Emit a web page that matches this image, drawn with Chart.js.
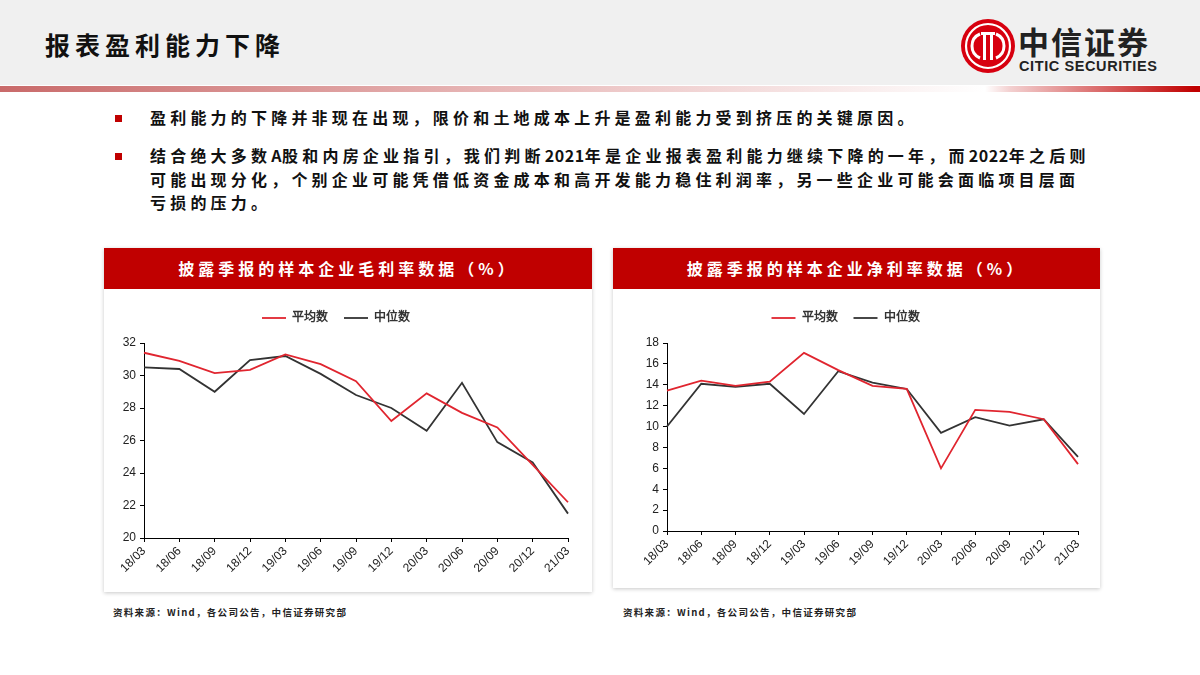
<!DOCTYPE html>
<html lang="zh-CN">
<head>
<meta charset="UTF-8" />
<title>报表盈利能力下降</title>
<script src="https://cdn.jsdelivr.net/npm/chart.js"></script>
<style>
  body {
    margin: 0;
    width: 1200px;
    height: 675px;
    position: relative;
    background: #fff;
    font-family: 'Noto Sans CJK SC', 'Noto Sans', sans-serif;
    overflow: hidden;
  }
  .band {
    position: absolute; left: 0; top: 0; width: 1200px; height: 85px;
    background: #f0f0f0;
  }
  .redline {
    position: absolute; left: 0; top: 86px; width: 1200px; height: 6px;
    background: linear-gradient(to right, #c96a6a 0px, #e8b8b8 500px, #ffffff 985px, #f3d0d0 1010px, #c00000 1195px);
  }
  .title {
    position: absolute; left: 45px; top: 26px;
    font-size: 25px; font-weight: bold; letter-spacing: 5px; color: #111;
  }
  .logo-cn {
    position: absolute; left: 1018px; top: 18px;
    font-size: 31px; font-weight: bold; color: #222; letter-spacing: 2px;
  }
  .logo-en {
    position: absolute; left: 1019px; top: 58px;
    font-family: 'Liberation Sans', sans-serif;
    font-size: 14.5px; font-weight: bold; color: #222; letter-spacing: 0.6px;
  }
  .bullet {
    position: absolute; left: 115px; width: 7px; height: 7px; background: #c00000;
  }
  .btext {
    position: absolute; left: 150px;
    font-size: 16px; font-weight: bold; color: #111; letter-spacing: 4.2px;
    line-height: 23.5px; white-space: nowrap;
  }
  .btext span { letter-spacing: 0.6px; }
  .panel {
    position: absolute; background: #fff;
    box-shadow: 0 1px 4px rgba(0,0,0,0.22);
  }
  .phead {
    position: absolute; left: 0; top: 0; right: 0; height: 41px;
    background: #c00000; color: #fff; text-align: center;
    font-size: 16px; font-weight: bold; line-height: 41px; letter-spacing: 4px;
  }
  .chartbox { position: absolute; }
  .note {
    position: absolute; top: 605px;
    font-size: 9.5px; font-weight: bold; color: #222; letter-spacing: 1.3px;
  }
</style>
</head>
<body>
  <div class="band"></div>
  <div class="redline"></div>
  <div class="title">报表盈利能力下降</div>

  <svg style="position:absolute;left:960px;top:18px" width="56" height="56" viewBox="0 0 56 56">
    <circle cx="28" cy="28" r="27" fill="#d7000f" />
    <circle cx="28" cy="28" r="22" fill="none" stroke="#fff" stroke-width="2.2" />
    <path d="M20 16 A13 13 0 0 0 20 40" fill="none" stroke="#fff" stroke-width="3" />
    <path d="M36 16 A13 13 0 0 1 36 40" fill="none" stroke="#fff" stroke-width="3" />
    <rect x="23" y="14" width="3" height="28" fill="#fff" />
    <rect x="30" y="14" width="3" height="28" fill="#fff" />
    <rect x="21" y="14" width="14" height="3" fill="#fff" />
  </svg>
  <div class="logo-cn">中信证券</div>
  <div class="logo-en">CITIC SECURITIES</div>

  <div class="bullet" style="top:115px"></div>
  <div class="btext" style="top:106px">盈利能力的下降并非现在出现，限价和土地成本上升是盈利能力受到挤压的关键原因。</div>
  <div class="bullet" style="top:153px"></div>
  <div class="btext" style="top:144px">结合绝大多数<span>A</span>股和内房企业指引，我们判断<span>2021</span>年是企业报表盈利能力继续下降的一年，而<span>2022</span>年之后则<br>可能出现分化，个别企业可能凭借低资金成本和高开发能力稳住利润率，另一些企业可能会面临项目层面<br>亏损的压力。</div>

  <div class="panel" style="left:104px;top:248px;width:488px;height:344px">
    <div class="phead">披露季报的样本企业毛利率数据（%）</div>
  </div>
  <div class="panel" style="left:613px;top:248px;width:487px;height:340px">
    <div class="phead">披露季报的样本企业净利率数据（%）</div>
  </div>

  <div class="chartbox" style="left:104px;top:296px;width:488px;height:292px"><canvas id="chartGross"></canvas></div>
  <div class="chartbox" style="left:613px;top:296px;width:487px;height:290px"><canvas id="chartNet"></canvas></div>

  <div class="note" style="left:113px">资料来源：Wind，各公司公告，中信证券研究部</div>
  <div class="note" style="left:623px">资料来源：Wind，各公司公告，中信证券研究部</div>

  <script>
    // 季度
    const quarters = ['18/03', '18/06', '18/09', '18/12', '19/03', '19/06', '19/09', '19/12', '20/03', '20/06', '20/09', '20/12', '21/03'];

    // 毛利率（%）
    const grossMean = [31.4, 30.9, 30.15, 30.35, 31.3, 30.7, 29.65, 27.2, 28.9, 27.7, 26.8, 24.5, 22.2];
    const grossMedian = [30.5, 30.4, 29.0, 30.95, 31.2, 30.1, 28.8, 28.0, 26.6, 29.55, 25.9, 24.65, 21.5];

    // 净利率（%）
    const netMean = [13.45, 14.4, 13.9, 14.3, 17.05, 15.4, 13.9, 13.6, 6.0, 11.6, 11.4, 10.7, 6.4];
    const netMedian = [10.0, 14.1, 13.8, 14.1, 11.2, 15.3, 14.2, 13.6, 9.4, 10.9, 10.1, 10.7, 7.1];

    const RED = '#e0252f';
    const BLACK = '#333333';

    // a bit more room between legend and plot
    const legendGap = {
      id: 'legendGap',
      beforeInit(chart) {
        const fitOrig = chart.legend.fit;
        chart.legend.fit = function () {
          fitOrig.bind(chart.legend)();
          this.height += 9;
        };
      }
    };

    function criaGrafico(id, mean, median, yMin, yMax, yWidth, xHeight, padRight) {
      new Chart(document.getElementById(id).getContext('2d'), {
        type: 'line',
        data: {
          labels: quarters,
          datasets: [
            { label: '平均数', data: mean, borderColor: RED, backgroundColor: RED, borderWidth: 1.8, pointRadius: 0, tension: 0 },
            { label: '中位数', data: median, borderColor: BLACK, backgroundColor: BLACK, borderWidth: 1.8, pointRadius: 0, tension: 0 }
          ]
        },
        plugins: [legendGap],
        options: {
          responsive: true,
          maintainAspectRatio: false,
          animation: false,
          layout: { padding: { left: 0, right: padRight, top: 0, bottom: 0 } },
          scales: {
            y: {
              min: yMin, max: yMax,
              ticks: { stepSize: 2, color: '#222', font: { size: 12, family: 'Liberation Sans' }, padding: 4 },
              grid: { drawOnChartArea: false, drawTicks: true, tickLength: 4, color: '#000' },
              border: { color: '#000', width: 1 },
              afterFit: s => { s.width = yWidth; }
            },
            x: {
              offset: false,
              ticks: { color: '#222', font: { size: 12, family: 'Liberation Sans' }, minRotation: 45, maxRotation: 45, autoSkip: false, padding: 2 },
              grid: { drawOnChartArea: false, drawTicks: true, tickLength: 4, color: '#000' },
              border: { color: '#000', width: 1 },
              afterFit: s => { s.height = xHeight; }
            }
          },
          plugins: {
            legend: {
              labels: {
                color: '#333',
                font: { size: 12, weight: 'bold' },
                usePointStyle: true,
                pointStyle: 'line',
                pointStyleWidth: 24,
                padding: 16
              }
            },
            tooltip: { enabled: false }
          }
        }
      });
    }

    criaGrafico('chartGross', grossMean, grossMedian, 20, 32, 40, 50, 24);
    criaGrafico('chartNet', netMean, netMedian, 0, 18, 54, 55, 22);
  </script>
</body>
</html>
